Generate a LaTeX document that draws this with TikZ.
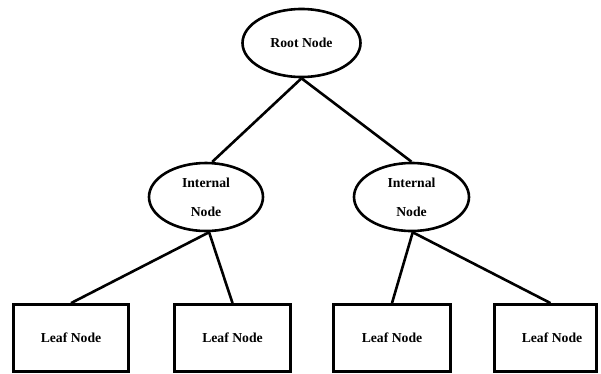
\documentclass[tikz,border=0pt]{standalone}
\usepackage{fontspec}
\setmainfont{Liberation Serif}
\usetikzlibrary{shapes.geometric,calc}
\begin{document}
\begin{tikzpicture}[x=1pt,y=-1pt,
  txt/.style={font=\fontsize{13.7}{29}\selectfont\bfseries, align=center, inner sep=0pt},
  oval/.style={txt, ellipse, draw, line width=2.6pt},
  leafbox/.style={txt, rectangle, draw, line width=2.8pt, minimum height=67pt},
  conn/.style={line width=2.6pt}]
\useasboundingbox (0,0) rectangle (601,373);
\node[oval, minimum width=118pt, minimum height=68pt] (root) at (301.5,43) {Root Node};
\node[oval, minimum width=114pt, minimum height=68pt] (intL) at (206,197) {Internal\\Node};
\node[oval, minimum width=115pt, minimum height=68pt] (intR) at (411.5,197) {Internal\\Node};
\node[leafbox, minimum width=115pt] (leaf1) at (71,338) {Leaf Node};
\node[leafbox, minimum width=116pt] (leaf2) at (232.5,338) {Leaf Node};
\node[leafbox, minimum width=117pt] (leaf3) at (392,338) {Leaf Node};
\node[leafbox, minimum width=102pt] (leaf4) at (545.5,338) {\hspace*{13pt}Leaf Node};
\draw[conn] (root.south) -- (intL.80);
\draw[conn] (root.south) -- (intR.north);
\draw[conn] (intL.-85) -- (leaf1.north);
\draw[conn] (intL.-85) -- (leaf2.north);
\draw[conn] (intR.-88) -- (leaf3.north);
\draw[conn] (intR.-88) -- ($(leaf4.north)+(5,0)$);
\end{tikzpicture}
\end{document}
